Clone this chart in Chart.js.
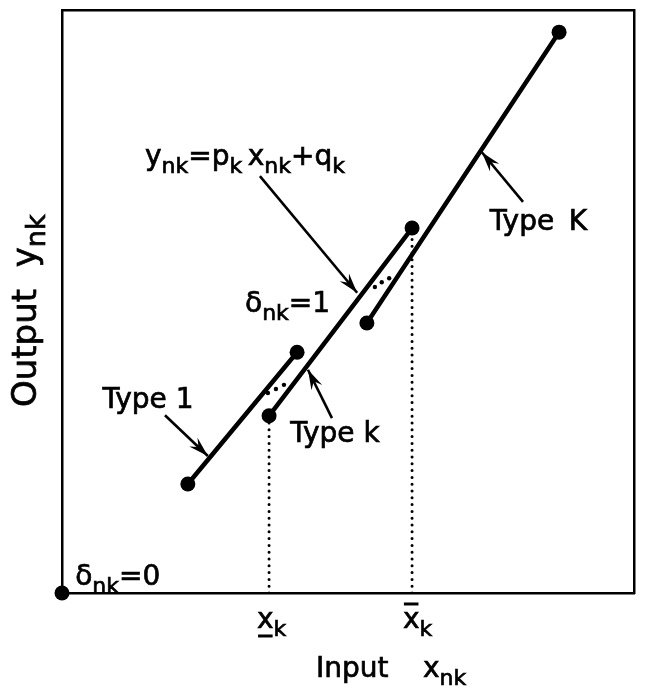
<!DOCTYPE html>
<html>
<head>
<meta charset="utf-8">
<script src="https://cdn.jsdelivr.net/npm/chart.js@4/dist/chart.umd.min.js"></script>
<style>
  html, body { margin: 0; padding: 0; background: #fff; }
  #wrap { width: 651px; height: 693px; position: relative; }
</style>
</head>
<body>
<div id="wrap"><canvas id="chart"></canvas></div>
<script>
// segment end points for each type (input, output)
var typeOneX = [22.0, 41.1];
var typeOneY = [18.7, 41.3];
var typeSmallKX = [36.2, 61.2];
var typeSmallKY = [30.4, 62.6];
var typeBigKX = [53.3, 86.9];
var typeBigKY = [46.3, 96.2];
// the point with delta = 0
var originX = [0];
var originY = [0];
// lower and upper input bounds of type k
var lowerBound = 36.2;
var upperBound = 61.2;
// "..." between the segments
var gapDotsX = [36.0, 37.4, 38.8, 54.7, 55.9, 57.2];
var gapDotsY = [34.3, 35.0, 35.7, 52.5, 53.3, 54.0];

function pairs(xs, ys) {
    return xs.map(function (x, i) { return { x: x, y: ys[i] }; });
}

// arrows: [tailX, tailY, tipX, tipY]
var arrows = [
    [34.6, 71.5, 51.6, 51.5],
    [18.0, 30.5, 25.5, 23.5],
    [47.2, 30.0, 43.0, 38.3],
    [80.6, 67.1, 73.4, 75.6]
];

// text pieces: runs of [text, isSubscript]
var labels = [
    { x: 14.5, y: 73.4, runs: [['y', 0], ['nk', 1], ['=p', 0], ['k', 1], ['\u2009x', 0], ['nk', 1], ['+q', 0], ['k', 1]] },
    { x: 32.0, y: 48.2, runs: [['\u03b4', 0], ['nk', 1], ['=1', 0]] },
    { x: 2.3, y: 1.4, runs: [['\u03b4', 0], ['nk', 1], ['=0', 0]] },
    { x: 23.0, y: 31.7, align: 'right', runs: [['Type 1', 0]] },
    { x: 39.9, y: 25.9, runs: [['Type k', 0]] },
    { x: 74.8, y: 62.3, runs: [['Type \u2009K', 0]] },
    { x: 34.1, y: -6.0, deco: 'under', runs: [['x', 0], ['k', 1]] },
    { x: 59.6, y: -6.0, deco: 'over', runs: [['x', 0], ['k', 1]] },
    { x: 44.4, y: -14.4, runs: [['Input', 0]] },
    { x: 63.1, y: -14.4, runs: [['x', 0], ['nk', 1]] },
    { x: -4.55, y: 31.9, rotate: true, size: 34, sub: 27, drop: 9, runs: [['Output', 0], ['  y', 0], ['nk', 1]] }
];

var FONT = '"DejaVu Sans", sans-serif';
var MAIN = 28, SUB = 22, DROP = 8;

function drawRuns(ctx, lab) {
    var main = lab.size || MAIN, sub = lab.sub || SUB, drop = lab.drop || DROP;
    var w = 0;
    lab.runs.forEach(function (r) {
        ctx.font = (r[1] ? sub : main) + 'px ' + FONT;
        w += ctx.measureText(r[0]).width;
    });
    var cx = lab.align === 'right' ? -w : 0;
    lab.runs.forEach(function (r, i) {
        ctx.font = (r[1] ? sub : main) + 'px ' + FONT;
        var tw = ctx.measureText(r[0]).width;
        var ty = r[1] ? drop : 0;
        ctx.fillText(r[0], cx, ty);
        ctx.strokeText(r[0], cx, ty);
        if (i === 0 && lab.deco) {
            var yy = lab.deco === 'under' ? 8 : -24;
            ctx.fillRect(cx + 1, yy - 1.5, tw - 2, 3);
        }
        cx += tw;
    });
}

var overlay = {
    id: 'overlay',
    afterDatasetsDraw: function (chart) {
        var ctx = chart.ctx, xs = chart.scales.x, ys = chart.scales.y;
        ctx.save();
        ctx.fillStyle = '#000';
        ctx.strokeStyle = '#000';
        // arrows
        arrows.forEach(function (a) {
            var x0 = xs.getPixelForValue(a[0]), y0 = ys.getPixelForValue(a[1]);
            var x1 = xs.getPixelForValue(a[2]), y1 = ys.getPixelForValue(a[3]);
            var c = Math.cos(Math.atan2(y1 - y0, x1 - x0)), s = Math.sin(Math.atan2(y1 - y0, x1 - x0));
            ctx.lineWidth = 2.6;
            ctx.beginPath();
            ctx.moveTo(x0, y0);
            ctx.lineTo(x1, y1);
            ctx.stroke();
            ctx.beginPath();
            ctx.moveTo(x1, y1);
            ctx.lineTo(x1 - 20 * c + 6 * s, y1 - 20 * s - 6 * c);
            ctx.lineTo(x1 - 13 * c, y1 - 13 * s);
            ctx.lineTo(x1 - 20 * c - 6 * s, y1 - 20 * s + 6 * c);
            ctx.closePath();
            ctx.fill();
        });
        // labels
        ctx.textBaseline = 'alphabetic';
        ctx.textAlign = 'left';
        ctx.lineWidth = 0.7;
        labels.forEach(function (lab) {
            ctx.save();
            ctx.translate(xs.getPixelForValue(lab.x), ys.getPixelForValue(lab.y));
            if (lab.rotate) ctx.rotate(-Math.PI / 2);
            drawRuns(ctx, lab);
            ctx.restore();
        });
        ctx.restore();
    }
};

function noSize(s) {
    if (s.isHorizontal()) s.height = 0; else s.width = 0;
}

function frameAxis(pos, axis) {
    return {
        type: 'linear', position: pos, axis: axis, min: 0, max: 100,
        grid: { display: false, drawTicks: false },
        ticks: { display: false },
        border: { display: true, color: '#000', width: 2.5 },
        afterFit: noSize
    };
}

var segStyle = {
    showLine: true, borderColor: '#000', backgroundColor: '#000',
    borderWidth: 4.5, pointRadius: 7.5, pointBorderWidth: 0, borderCapStyle: 'round'
};

var dottedStyle = {
    showLine: true, borderColor: '#000', borderWidth: 3, pointRadius: 0,
    borderDash: [0, 6.8], borderCapStyle: 'round'
};

new Chart(document.getElementById('chart'), {
    type: 'scatter',
    data: {
        datasets: [
            Object.assign({ label: 'Type 1', data: pairs(typeOneX, typeOneY) }, segStyle),
            Object.assign({ label: 'Type k', data: pairs(typeSmallKX, typeSmallKY) }, segStyle),
            Object.assign({ label: 'Type K', data: pairs(typeBigKX, typeBigKY) }, segStyle),
            { label: 'origin', data: pairs(originX, originY), pointRadius: 7.5, backgroundColor: '#000', borderWidth: 0, clip: false },
            Object.assign({ label: 'lower', data: [{ x: lowerBound, y: 0 }, { x: lowerBound, y: typeSmallKY[0] }] }, dottedStyle),
            Object.assign({ label: 'upper', data: [{ x: upperBound, y: 0 }, { x: upperBound, y: typeSmallKY[1] }] }, dottedStyle),
            { label: 'gap', data: pairs(gapDotsX, gapDotsY), pointRadius: 2.2, backgroundColor: '#000', borderWidth: 0 }
        ]
    },
    options: {
        responsive: true,
        maintainAspectRatio: false,
        animation: false,
        layout: { padding: { left: 62, right: 17, top: 10, bottom: 100 } },
        plugins: { legend: { display: false }, tooltip: { enabled: false } },
        scales: {
            x: frameAxis('bottom', 'x'),
            y: frameAxis('left', 'y'),
            x2: frameAxis('top', 'x'),
            y2: frameAxis('right', 'y')
        }
    },
    plugins: [overlay]
});
</script>
</body>
</html>
